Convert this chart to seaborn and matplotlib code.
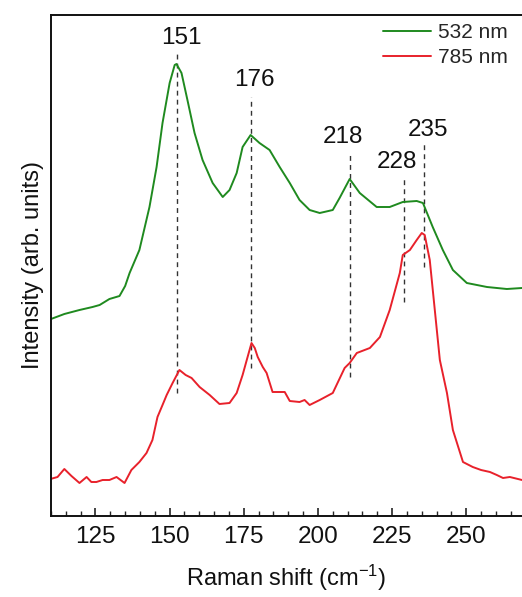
import matplotlib
matplotlib.use("Agg")
import matplotlib.pyplot as plt
import seaborn as sns
import pandas as pd
from matplotlib.ticker import MultipleLocator

# ---- data (intensity in arbitrary units) ----
shift_532 = [110, 114.5, 119.6, 124.0, 126.4, 129.7, 133.1, 135.0, 136.5, 139.8,
             143.2, 145.6, 147.6, 150.0, 151.7, 152.3, 154.0, 156.0, 158.4, 161.1,
             164.5, 167.9, 170.2, 172.6, 174.6, 177.3, 180.3, 183.7, 187.1, 190.5,
             193.8, 197.2, 200.6, 205.0, 207.3, 210.7, 214.1, 219.8, 224.2, 228.6,
             233.3, 235.4, 238.7, 242.1, 245.5, 250.2, 257.0, 263.7, 268.8]
int_532 = [197, 202, 206, 209, 211, 217, 220, 230, 243, 266,
           309, 349, 393, 433, 451, 452, 443, 416, 383, 356,
           333, 319, 326, 343, 369, 381, 373, 366, 349, 333,
           316, 306, 303, 306, 318, 337, 323, 309, 309, 314,
           315, 313, 289, 266, 246, 233, 229, 227, 228]

shift_785 = [109.8, 112.2, 114.5, 116.9, 119.6, 122.0, 123.6, 125.3, 127.4, 129.7,
             132.1, 134.8, 137.1, 139.8, 142.2, 144.2, 145.9, 147.6, 149.0, 151.0,
             153.3, 155.4, 157.4, 160.1, 163.5, 166.8, 170.2, 172.6, 174.6, 176.0,
             177.6, 178.7, 179.7, 181.4, 182.7, 184.7, 188.8, 190.5, 193.8, 195.5,
             197.2, 200.6, 205.0, 209.0, 210.7, 213.1, 217.5, 220.9, 224.2, 227.6,
             228.6, 231.0, 233.3, 235.0, 236.0, 237.7, 239.4, 241.1, 243.5, 245.5,
             248.9, 252.2, 255.0, 258.0, 260.3, 262.4, 264.7, 268.8]
int_785 = [37, 39, 47, 40, 33, 39, 34, 34, 36, 36,
           39, 33, 46, 54, 63, 76, 99, 111, 121, 133,
           146, 141, 138, 129, 121, 112, 113, 123, 141, 156,
           173, 168, 159, 149, 143, 124, 124, 115, 114, 116,
           111, 116, 123, 148, 153, 163, 168, 179, 206, 243,
           261, 266, 276, 283, 281, 256, 206, 156, 123, 86,
           54, 49, 46, 44, 41, 38, 39, 36]

peak_labels = ["151", "176", "218", "228", "235"]
peak_pos = [152.6, 177.5, 210.7, 228.9, 235.8]
peak_line_top = [466, 419, 361, 338, 373]
peak_line_bottom = [123, 148, 139, 214, 249]
label_x = [154.0, 178.7, 208.4, 226.6, 237.0]
label_y = [478, 436, 379, 354, 386]

series_names = ["532 nm", "785 nm"]
series_colors = ["#1f8a1f", "#e8212b"]

# ---- build table ----
df = pd.concat([
    pd.DataFrame({"shift": shift_532, "intensity": int_532, "laser": series_names[0]}),
    pd.DataFrame({"shift": shift_785, "intensity": int_785, "laser": series_names[1]}),
], ignore_index=True)

sns.set_style("ticks")
plt.rcParams["font.family"] = ["Liberation Sans", "DejaVu Sans"]
plt.rcParams["mathtext.fontset"] = "custom"
plt.rcParams["mathtext.rm"] = "Liberation Sans"
plt.rcParams["mathtext.it"] = "Liberation Sans"

fig = plt.figure(figsize=(5.22, 5.97), dpi=100)
ax = fig.add_axes([51 / 522, 81 / 597, 471 / 522, 501.5 / 597])

sns.lineplot(data=df, x="shift", y="intensity", hue="laser", sort=False,
             palette=dict(zip(series_names, series_colors)), linewidth=1.4,
             ax=ax, estimator=None)

for p, t, b in zip(peak_pos, peak_line_top, peak_line_bottom):
    ax.plot([p, p], [b, t], color="#333333", linestyle=(0, (3.5, 3)), linewidth=1.0, zorder=1)
for lab, lx, ly in zip(peak_labels, label_x, label_y):
    ax.text(lx, ly, lab, ha="center", va="center", fontsize=17.5, color="#111111")

ax.set_xlim(110, 268.8)
ax.set_ylim(0, 501.5)
ax.xaxis.set_major_locator(MultipleLocator(25))
ax.xaxis.set_minor_locator(MultipleLocator(5))
ax.set_yticks([])
ax.tick_params(axis="x", which="major", direction="in", length=6, width=1.1,
               labelsize=17.5, pad=7, colors="#111111")
ax.tick_params(axis="x", which="minor", direction="in", length=3.5, width=1.0)
for s in ["left", "bottom", "top"]:
    ax.spines[s].set_linewidth(1.4)
    ax.spines[s].set_color("#111111")
ax.spines["right"].set_visible(False)

ax.set_xlabel("Raman shift (cm$\\mathregular{^{-1}}$)", fontsize=17, labelpad=11, color="#111111")
ax.set_ylabel("Intensity (arb. units)", fontsize=17, labelpad=5, color="#111111")

leg = ax.legend(loc="upper right", bbox_to_anchor=(1.0, 1.012), frameon=False,
                fontsize=15, handlelength=2.3, handletextpad=0.3, labelspacing=0.3,
                borderaxespad=0.3, title=None)

fig.savefig("out.png", dpi=100)
